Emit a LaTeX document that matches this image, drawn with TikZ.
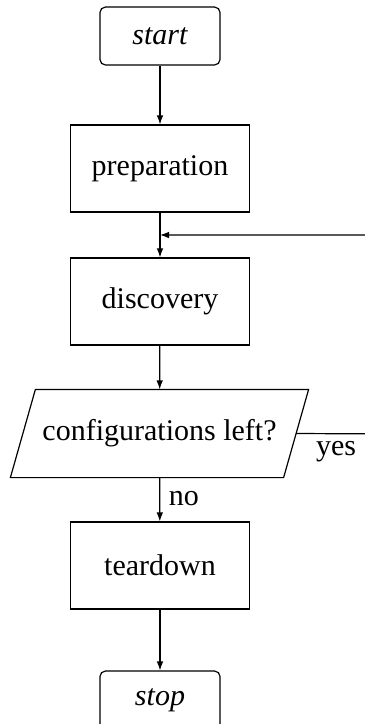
\documentclass[tikz,border=0pt]{standalone}
\usepackage{fontspec}
\setmainfont{Liberation Serif}
\usetikzlibrary{arrows.meta,calc}
\begin{document}
\begin{tikzpicture}[x=0.3333pt,y=-0.3333pt,
  every path/.style={line width=0.4pt},
  term/.style={draw,rectangle,rounded corners=1.8pt,minimum width=40pt,minimum height=19.3pt,inner sep=0pt,font=\itshape},
  proc/.style={draw,rectangle,minimum width=59.7pt,minimum height=29pt,inner sep=0pt},
  dec/.style={rectangle,minimum width=99pt,minimum height=29pt,inner sep=0pt},
  flow/.style={-{Latex[length=3pt,width=2.2pt]}},
  lbl/.style={inner sep=0pt}]
\useasboundingbox (0,0) rectangle (365,724);
\node[term] (start) at (160,36) {start};
\node[proc] (prep) at (160,168.5) {preparation};
\node[proc] (disc) at (160,301.5) {discovery};
\node[dec] (cfg) at (159.5,433.5) {configurations left?};
\draw (cfg.south west) -- ($(cfg.north west)+(25,0)$) -- (cfg.north east)
  -- ($(cfg.south east)+(-25,0)$) -- cycle;
\coordinate (cfgE) at ($(cfg.east)+(-12.5,0)$);
\node[proc] (tear) at (160,565.5) {teardown};
\node[term] (stop) at (160,700) {stop};
\coordinate (join) at ($(prep.south)!0.5!(disc.north)$);
\coordinate (far) at (400,434);
\draw[flow] (start) -- (prep);
\draw (prep) -- (join);
\draw[flow] (join) -- (disc);
\draw[flow] (disc) -- (cfg);
\draw[flow] (cfg) -- (tear);
\draw[flow] (tear) -- (stop);
\draw[flow] (cfgE) -- (far) |- (join);
\node[lbl] (no) at (184,499) {no};
\node[lbl] (yes) at (336,452) {yes};
\end{tikzpicture}
\end{document}
